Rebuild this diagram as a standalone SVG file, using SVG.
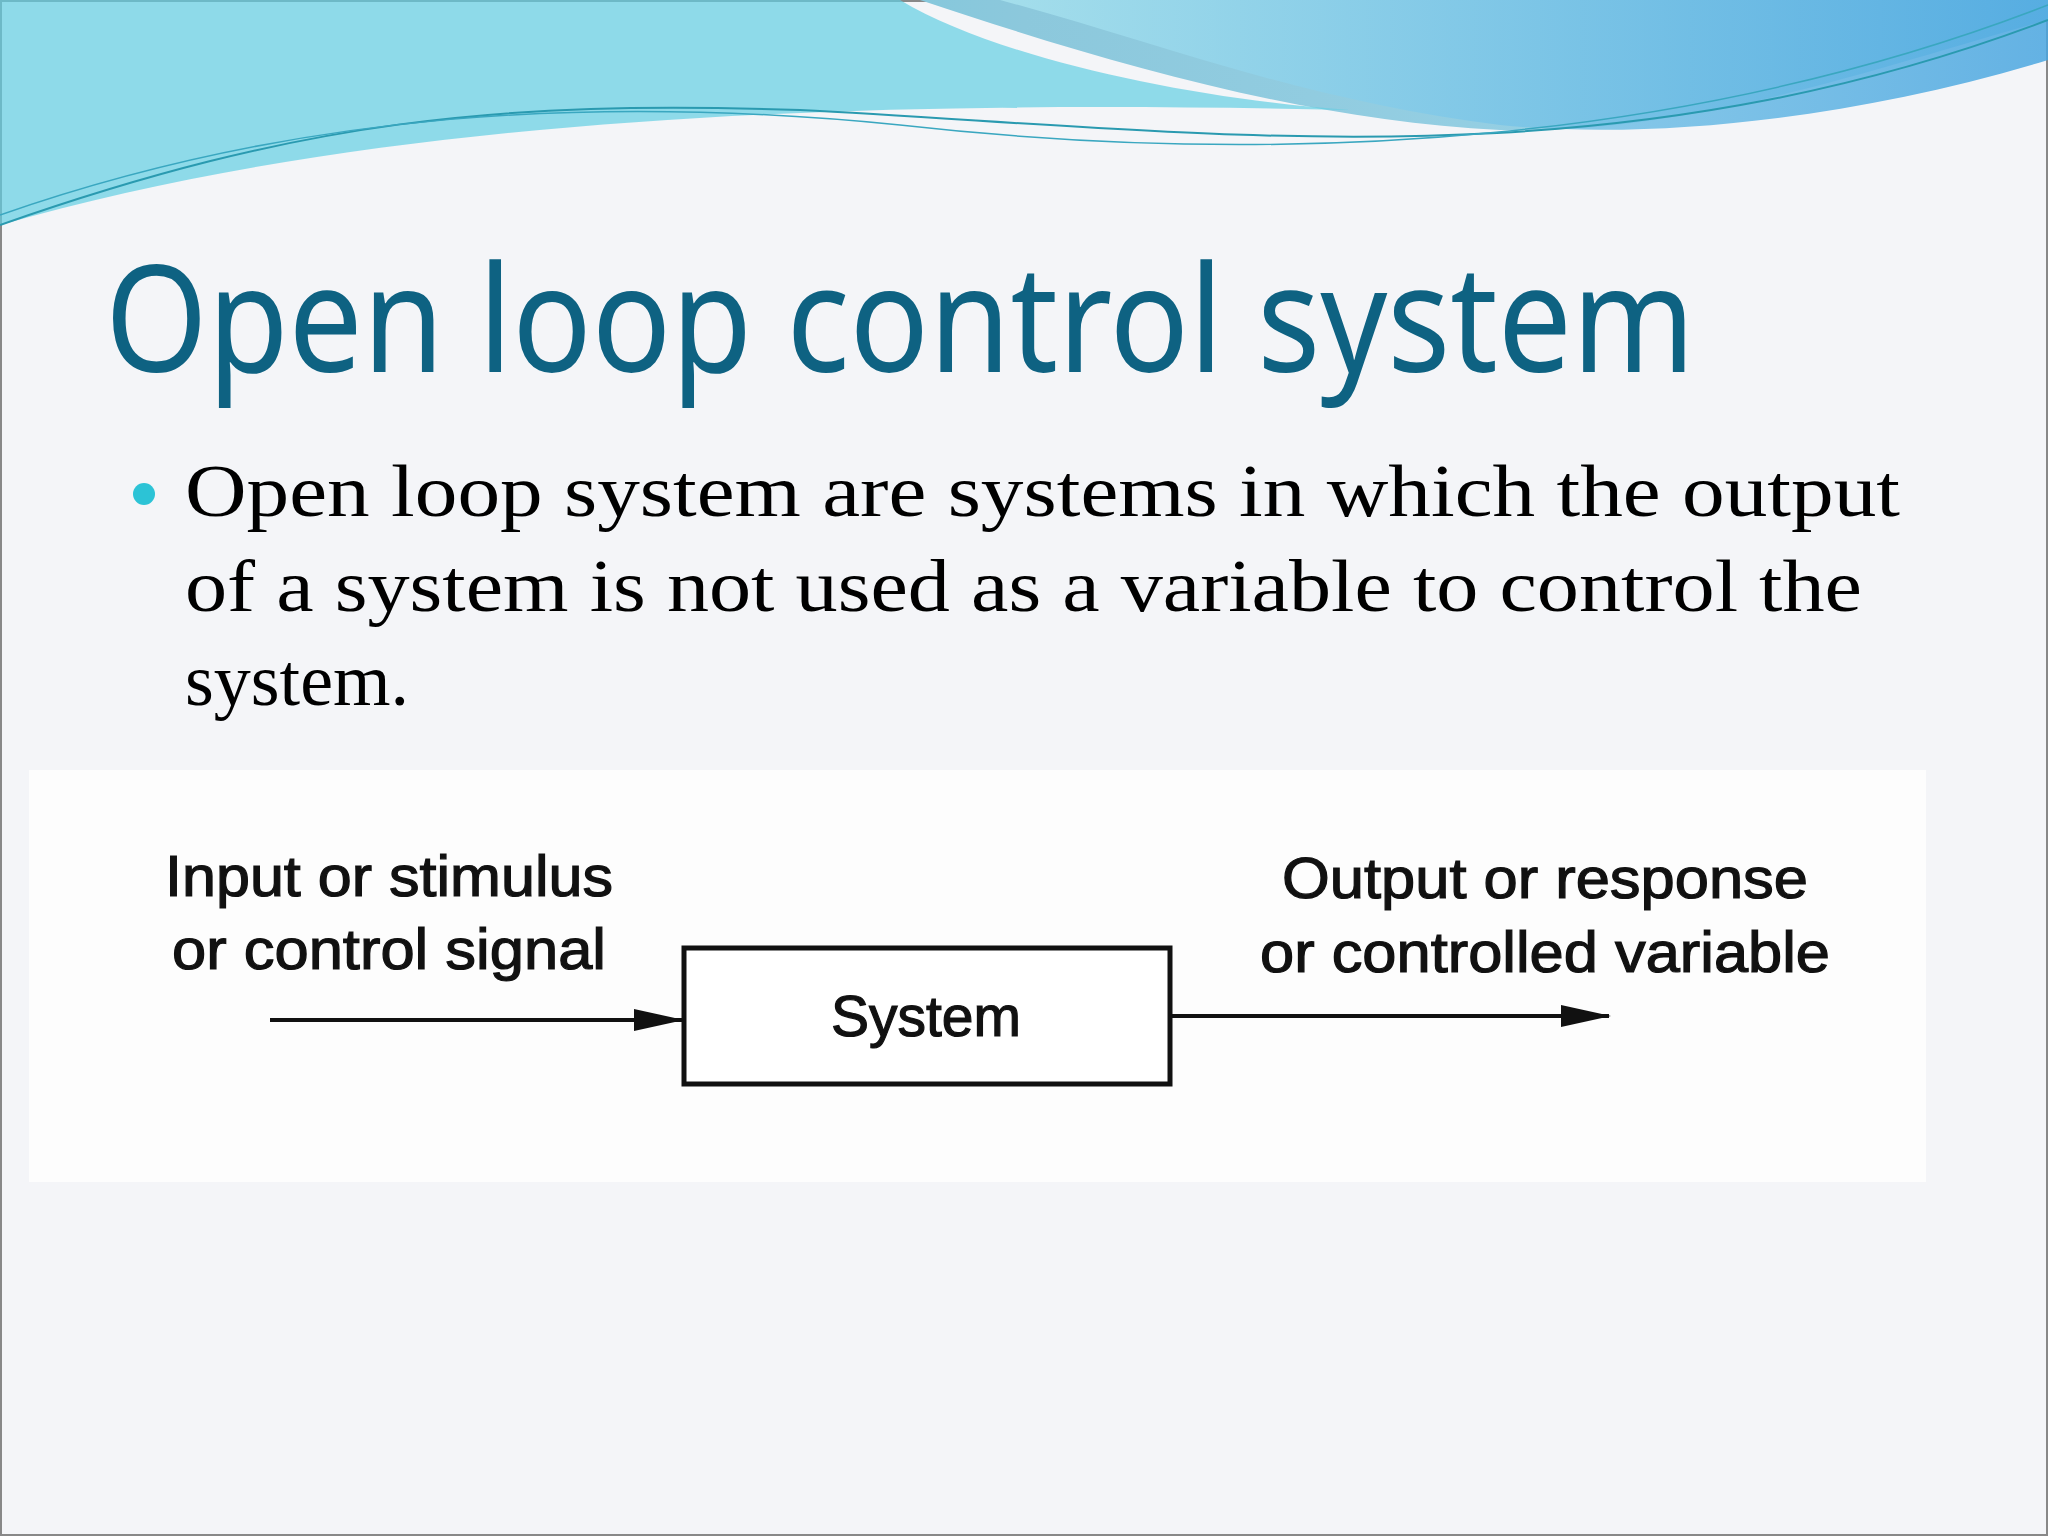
<svg xmlns="http://www.w3.org/2000/svg" width="2048" height="1536" viewBox="0 0 2048 1536">
<defs>
<linearGradient id="g1" x1="0" y1="0" x2="1" y2="0"><stop offset="0" stop-color="#4fc6dc"/><stop offset="0.5" stop-color="#8cc8dc"/><stop offset="1" stop-color="#9ed6ea"/></linearGradient>
<linearGradient id="g2" x1="0" y1="0" x2="1" y2="0"><stop offset="0" stop-color="#a8e2ee"/><stop offset="1" stop-color="#4aa6e0"/></linearGradient>
<marker id="ah" markerWidth="50" markerHeight="22" refX="48" refY="11" orient="auto" markerUnits="userSpaceOnUse" viewBox="0 0 50 22"><path d="M0,0 L50,11 L0,22 Z" fill="#111"/></marker>
<style>
.lbl{font-family:"Liberation Sans",Arial,sans-serif;font-size:57px;fill:#111;stroke:#111;stroke-width:1.2;text-anchor:middle}
.body{font-family:"Liberation Serif","Times New Roman",serif;font-size:74px;fill:#000}
</style>
</defs>
<rect width="2048" height="1536" fill="#f4f5f8"/>
<rect x="1" y="1" width="2046" height="1534" fill="none" stroke="#888" stroke-width="2"/>
<g id="header">
<path d="M0,0 H920 C1100,60 1300,120 1500,130 C1700,135 1900,60 2048,20 V0 Z" fill="url(#g1)"/>
<path d="M0,0 H900 C1000,60 1200,100 1350,110 C900,100 400,110 0,225 Z" fill="#62cfe2" opacity="0.7"/>
<path d="M1000,0 H2048 V60 C1850,120 1650,140 1500,125 C1300,100 1150,40 1000,0 Z" fill="url(#g2)" opacity="0.85"/>
<path d="M0,225 C300,120 500,100 800,110 C1200,130 1600,190 2048,20" fill="none" stroke="#2a9ab0" stroke-width="2"/>
<path d="M0,215 C300,110 600,95 900,125 C1300,170 1700,140 2048,5" fill="none" stroke="#3aa7c0" stroke-width="1.5"/>
</g>
<text x="105" y="372" font-family="'Noto Sans','Open Sans',sans-serif" font-size="148" fill="#0e6282" textLength="1590" lengthAdjust="spacingAndGlyphs">Open loop control system</text>
<circle cx="144" cy="494" r="11" fill="#2cc3d6"/>
<text class="body" x="185" y="516" textLength="1715" lengthAdjust="spacingAndGlyphs">Open loop system are systems in which the output</text>
<text class="body" x="185" y="611" textLength="1677" lengthAdjust="spacingAndGlyphs">of a system is not used as a variable to control the</text>
<text class="body" x="185" y="705">system.</text>
<rect x="29" y="770" width="1897" height="412" fill="#fdfdfd"/>
<g id="system">
<rect x="684" y="948" width="486" height="136" fill="#fff" stroke="#111" stroke-width="5"/>
<text class="lbl" x="926" y="1036">System</text>
</g>
<g id="input"><text class="lbl" x="389" y="896" textLength="448" lengthAdjust="spacingAndGlyphs">Input or stimulus</text><text class="lbl" x="389" y="969" textLength="434" lengthAdjust="spacingAndGlyphs">or control signal</text></g>
<g id="output"><text class="lbl" x="1545" y="898" textLength="526" lengthAdjust="spacingAndGlyphs">Output or response</text><text class="lbl" x="1545" y="972" textLength="570" lengthAdjust="spacingAndGlyphs">or controlled variable</text></g>
<g id="connectors" stroke="#111" stroke-width="4">
<line x1="270" y1="1020" x2="682" y2="1020" marker-end="url(#ah)"/>
<line x1="1172" y1="1016" x2="1609" y2="1016" marker-end="url(#ah)"/>
</g>
</svg>
